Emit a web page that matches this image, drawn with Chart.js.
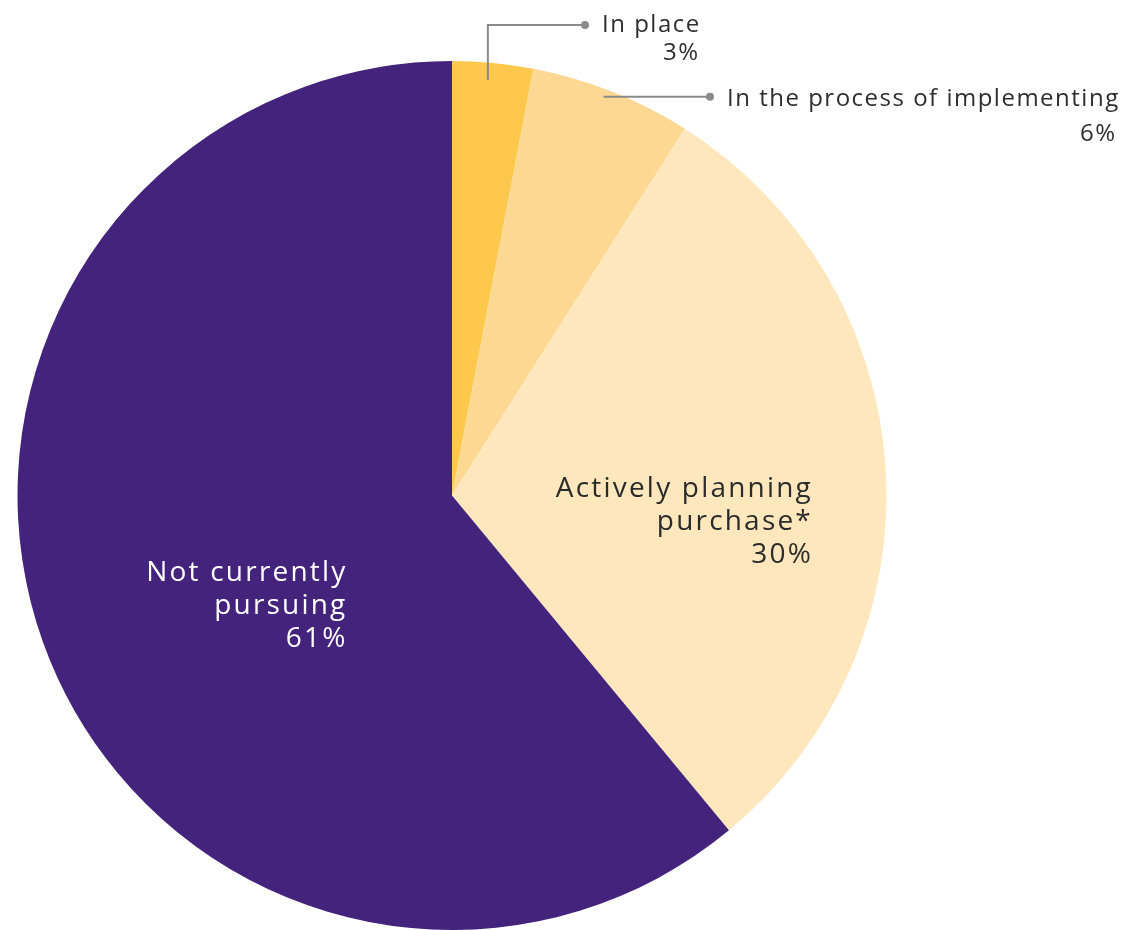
<!DOCTYPE html>
<html>
<head>
<meta charset="utf-8">
<script src="https://cdn.jsdelivr.net/npm/chart.js@4/dist/chart.umd.min.js"></script>
<style>
  html, body { margin: 0; padding: 0; background: #fff; }
  #wrap { width: 1125px; height: 930px; position: relative; }
</style>
</head>
<body>
<div id="wrap"><canvas id="pie"></canvas></div>
<script>
// slice data, clockwise from 12 o'clock
const categories = ["In place", "In the process of implementing", "Actively planning purchase*", "Not currently pursuing"];
const labelLines = [["In place"], ["In the process of implementing"], ["Actively planning", "purchase*"], ["Not currently", "pursuing"]];
const values = [3, 6, 30, 61];
const colors = ["#FEC84D", "#FDD893", "#FEE7BC", "#43237B"];

// label placement: inside labels are right-aligned blocks (anchor = baseline of middle line),
// small slices get elbow/straight callouts
const placement = [
  { type: "callout", r: 0.96, da: -0.47, up: 25, lineEnd: 585, textX: 602, textDy: 7, pctX: 698, pctDy: 35 },
  { type: "callout", r: 0.982, da: -0.8, lineEnd: 710, textX: 727, textDy: 9, pctX: 1115, pctDy: 44 },
  { type: "inside", r: 0.8296, da: 9.15, color: "#2b2b2b" },
  { type: "inside", r: 0.367, da: -28.2, color: "#ffffff" },
];

const labelPlugin = {
  id: "sliceLabels",
  afterDatasetsDraw(chart) {
    const ctx = chart.ctx;
    const meta = chart.getDatasetMeta(0);
    const rad = Math.PI / 180;
    meta.data.forEach((arc, i) => {
      const p = arc.getProps(["x", "y", "startAngle", "endAngle", "outerRadius"], true);
      const mid = (p.startAngle + p.endAngle) / 2;
      const cfg = placement[i];
      const a = mid + cfg.da * rad;
      const ax = p.x + Math.cos(a) * p.outerRadius * cfg.r;
      const ay = p.y + Math.sin(a) * p.outerRadius * cfg.r;
      ctx.save();
      ctx.textBaseline = "alphabetic";
      if (cfg.type === "inside") {
        const lines = labelLines[i].concat([values[i] + "%"]);
        const ls = 2.2;
        ctx.font = "28px 'Open Sans'";
        ctx.letterSpacing = ls + "px";
        ctx.fillStyle = cfg.color;
        ctx.textAlign = "right";
        const lh = 33;
        const first = ay - lh * (lines.length - 1) / 2;
        lines.forEach((t, k) => ctx.fillText(t, ax + ls, first + k * lh));
      } else {
        const ty = cfg.up != null ? cfg.up : ay;
        ctx.strokeStyle = "#8a8a8a";
        ctx.lineWidth = 2;
        ctx.beginPath();
        ctx.moveTo(ax, ay);
        if (cfg.up != null) ctx.lineTo(ax, ty);
        ctx.lineTo(cfg.lineEnd, ty);
        ctx.stroke();
        ctx.fillStyle = "#8a8a8a";
        ctx.beginPath();
        ctx.arc(cfg.lineEnd, ty, 4, 0, Math.PI * 2);
        ctx.fill();
        const ls = 1.5;
        ctx.font = "24px 'Open Sans'";
        ctx.letterSpacing = ls + "px";
        ctx.fillStyle = "#2e2e2e";
        ctx.textAlign = "left";
        ctx.fillText(labelLines[i][0], cfg.textX, ty + cfg.textDy);
        ctx.textAlign = "right";
        ctx.fillText(values[i] + "%", cfg.pctX + ls, ty + cfg.pctDy);
      }
      ctx.restore();
    });
  },
};

new Chart(document.getElementById("pie").getContext("2d"), {
  type: "pie",
  data: {
    labels: categories,
    datasets: [{
      data: values,
      backgroundColor: colors,
      borderWidth: 0,
    }],
  },
  options: {
    responsive: true,
    maintainAspectRatio: false,
    animation: false,
    layout: { padding: { top: 61, bottom: -3, left: 16, right: 237 } },
    plugins: {
      legend: { display: false },
      tooltip: { enabled: false },
    },
  },
  plugins: [labelPlugin],
});
</script>
</body>
</html>
